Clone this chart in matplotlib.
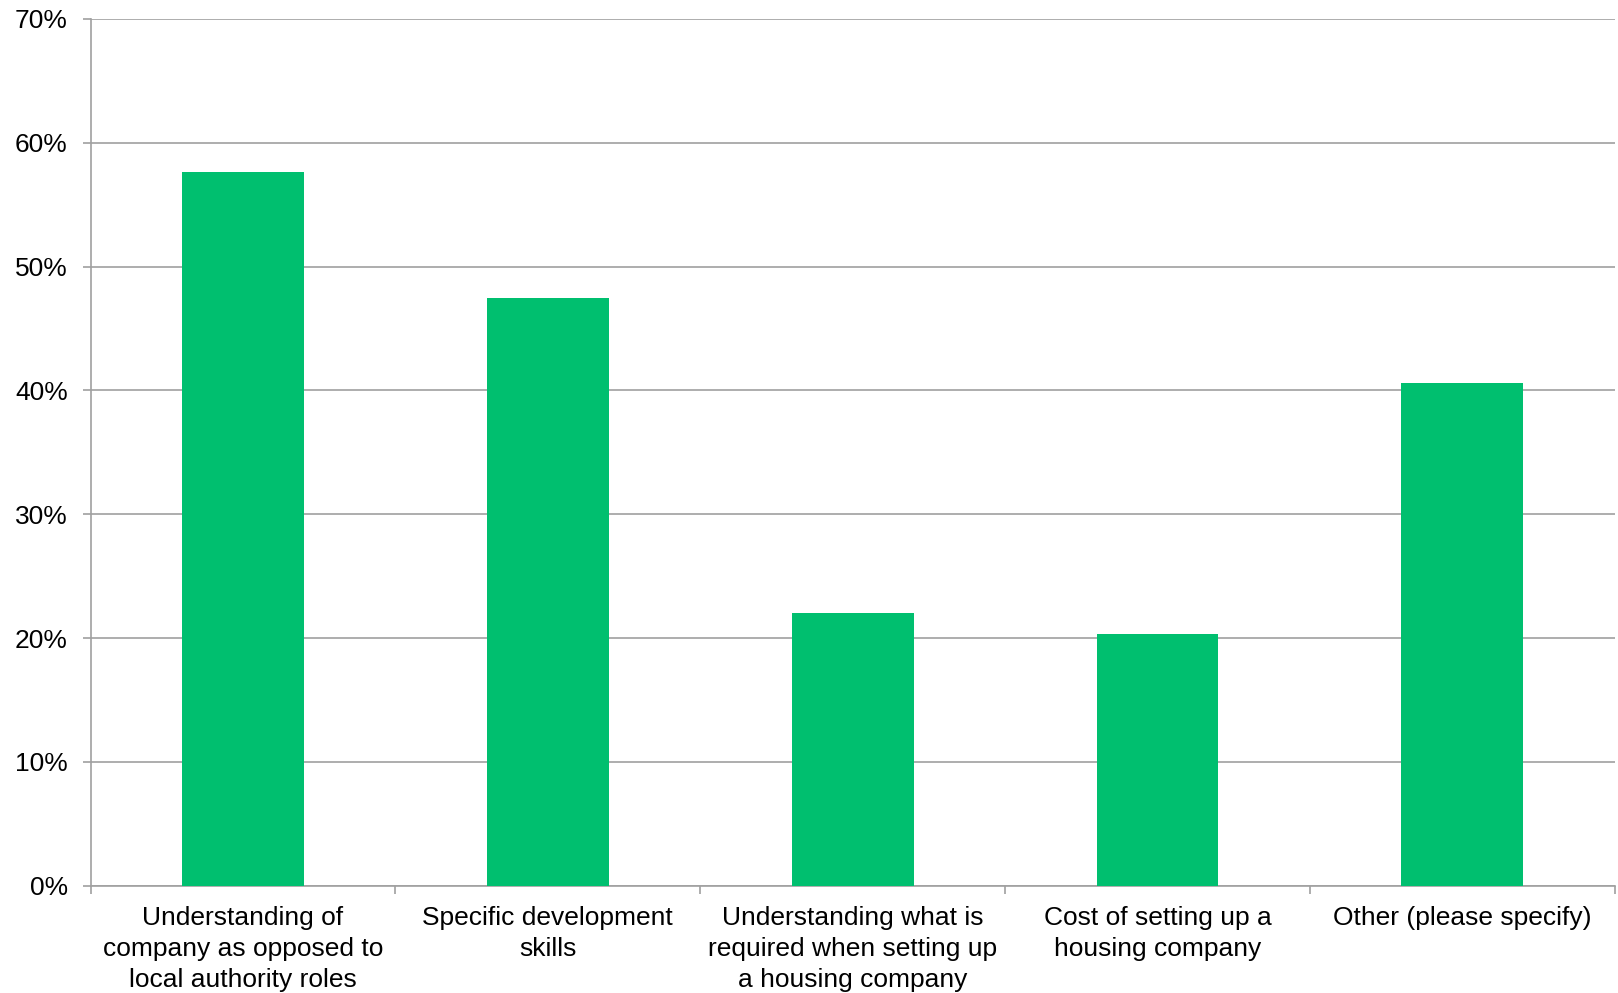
import matplotlib.pyplot as plt
import numpy as np
from matplotlib.ticker import FuncFormatter

plt.rcParams['font.family'] = ['Liberation Sans', 'DejaVu Sans']

categories = [
    "Understanding of\ncompany as opposed to\nlocal authority roles",
    "Specific development\nskills",
    "Understanding what is\nrequired when setting up\na housing company",
    "Cost of setting up a\nhousing company",
    "Other (please specify)",
]
shares = [57.6, 47.5, 22.0, 20.3, 40.6]

BAR_COLOR = "#00bf6f"
GRID_COLOR = "#a0a0a0"

fig = plt.figure(figsize=(16.18, 9.93), dpi=100)
ax = fig.add_axes([0.056, 0.108, 0.942, 0.873])

x = np.arange(len(categories))
ax.bar(x, shares, width=0.4, color=BAR_COLOR, zorder=3)

ax.set_xlim(-0.5, len(categories) - 0.5)
ax.set_ylim(0, 70)
ax.set_yticks(np.arange(0, 71, 10))
ax.yaxis.set_major_formatter(FuncFormatter(lambda v, _: f"{v:.0f}%"))
ax.grid(axis="y", color=GRID_COLOR, linewidth=1.2, zorder=0)

# category labels sit between the boundary ticks
ax.set_xticks(x)
ax.set_xticklabels(categories, fontsize=19, linespacing=1.37)
ax.set_xticks(np.arange(-0.5, len(categories)), minor=True)
ax.tick_params(axis="x", which="major", length=0, pad=14.5)
ax.tick_params(axis="x", which="minor", length=6, color=GRID_COLOR, width=1.2)
ax.tick_params(axis="y", length=6, color=GRID_COLOR, width=1.2, labelsize=19, pad=10.5)

for side in ["top", "right"]:
    ax.spines[side].set_visible(False)
for side in ["left", "bottom"]:
    ax.spines[side].set_color(GRID_COLOR)
    ax.spines[side].set_linewidth(1.2)

fig.savefig("out.png", dpi=100)
